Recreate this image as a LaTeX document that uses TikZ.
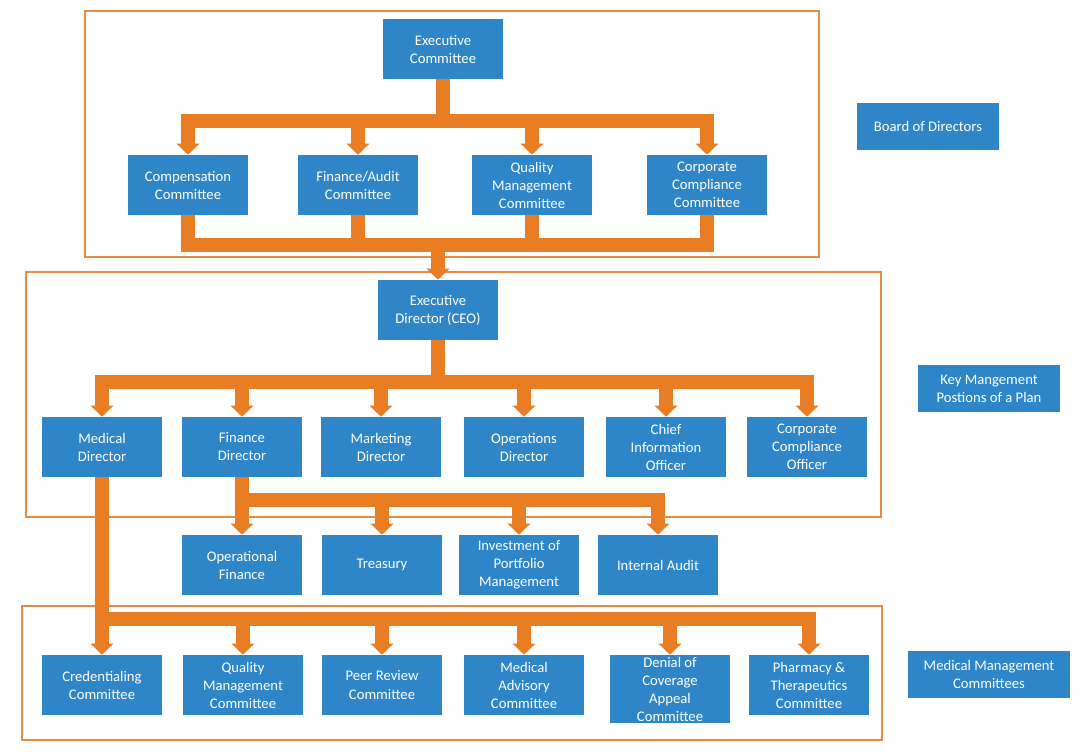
\documentclass[tikz,border=0pt]{standalone}
\usepackage{fontspec}
\setmainfont{Carlito}
\usepackage{tikz}
\usetikzlibrary{arrows.meta}
\tikzset{>={Triangle[width=16.5pt,length=8.25pt]}}
\definecolor{boxBlue}{RGB}{46,134,200}
\definecolor{penOrange}{RGB}{232,125,36}
\definecolor{frameOrange}{RGB}{228,140,70}

\begin{document}
\begin{tikzpicture}[x=0.75pt,y=-0.75pt,
  unit/.style={fill=boxBlue,text=white,align=center,inner sep=0pt,
    minimum width=90pt,minimum height=45pt,font=\fontsize{11}{13.5}\selectfont},
  tag/.style={unit,minimum width=106.5pt,minimum height=35.25pt},
  conn/.style={penOrange,line width=10.5pt,line join=miter,->},
  frame/.style={frameOrange,line width=1pt}]

  \useasboundingbox [fill=white] (0,0) rectangle (1080,752);

  % board of directors
  \draw [frame] (85,11) rectangle (819,257);
  \node [unit] (exc) at (443,49) {Executive\\Committee};
  \node [unit] (comp) at (188,185) {Compensation\\Committee};
  \node [unit] (fin) at (358,185) {Finance/Audit\\Committee};
  \node [unit] (qual) at (532,185) {Quality\\Management\\Committee};
  \node [unit] (corp) at (707,185) {Corporate\\Compliance\\Committee};
  \node [tag] (bod) at (928,126.5) {Board of Directors};

  \coordinate (bar1) at (443,121);
  \foreach \n in {comp,fin,qual,corp}
    \draw [conn] (exc.south) -- (bar1) -| (\n.north);

  % key management
  \draw [frame] (26,272) rectangle (881,517);
  \node [unit] (ced) at (438,310) {Executive\\Director (CEO)};
  \node [unit] (md) at (102,447) {Medical\\Director};
  \node [unit] (fd) at (242,447) {Finance\\Director};
  \node [unit] (mkt) at (381,447) {Marketing\\Director};
  \node [unit] (ops) at (524,447) {Operations\\Director};
  \node [unit] (cio) at (666,447) {Chief\\Information\\Officer};
  \node [unit] (cco) at (807,447) {Corporate\\Compliance\\Officer};
  \node [tag] (kmp) at (989,388.5) {Key Mangement\\Postions of a Plan};

  \coordinate (bar2) at (438,245);
  \foreach \n in {comp,fin,qual,corp}
    \draw [conn,-] (\n.south) |- (bar2);
  \draw [conn] (bar2) -- (ced.north);

  \coordinate (bar3) at (438,382);
  \foreach \n in {md,fd,mkt,ops,cio,cco}
    \draw [conn] (ced.south) -- (bar3) -| (\n.north);

  % finance
  \node [unit] (opf) at (242,565) {Operational\\Finance};
  \node [unit] (trs) at (382,565) {Treasury};
  \node [unit] (inv) at (519,565) {Investment of\\Portfolio\\Management};
  \node [unit] (iad) at (658,565) {Internal Audit};

  \coordinate (bar4) at (242,500);
  \draw [conn] (fd.south) -- (opf.north);
  \foreach \n in {trs,inv,iad}
    \draw [conn] (fd.south) -- (bar4) -| (\n.north);

  % medical management
  \draw [frame] (22,606) rectangle (882,740);
  \node [unit] (cred) at (102,685) {Credentialing\\Committee};
  \node [unit] (qmc) at (243,685) {Quality\\Management\\Committee};
  \node [unit] (prc) at (382,685) {Peer Review\\Committee};
  \node [unit] (mac) at (524,685) {Medical\\Advisory\\Committee};
  \node [unit,minimum height=51pt] (doc) at (670,689) {Denial of\\Coverage\\Appeal\\Committee};
  \node [unit] (ptc) at (809,685) {Pharmacy \&\\Therapeutics\\Committee};
  \node [tag,minimum width=121.5pt] (mmc) at (989,674.5) {Medical Management\\Committees};

  \coordinate (bar5) at (102,619);
  \draw [conn] (md.south) -- (cred.north);
  \foreach \n in {qmc,prc,mac,doc,ptc}
    \draw [conn] (md.south) -- (bar5) -| (\n.north);

\end{tikzpicture}
\end{document}
